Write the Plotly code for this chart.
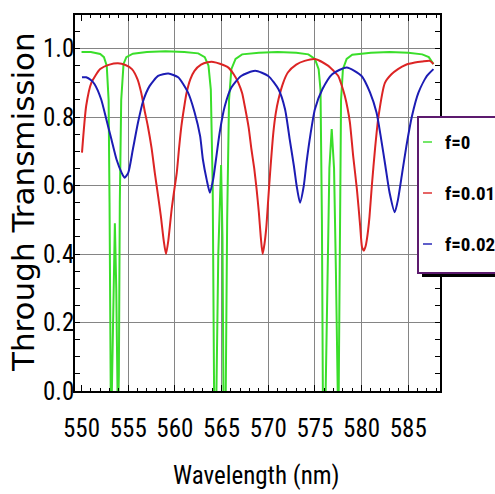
import plotly.graph_objects as go

# ---------------- data ----------------
SERIES_NAMES = ["f=0", "f=0.01", "f=0.02"]
COLORS = ["#3ade2a", "#dc2424", "#1c1cb4"]

GREEN_X = [550.0, 551.0, 552.0, 552.4, 552.7, 552.9, 553.0, 553.1, 553.15, 553.25,
           553.4, 553.57, 553.72, 553.85, 553.9, 554.0, 554.1, 554.25, 554.5, 554.8,
           555.5, 557.0, 559.0, 561.0, 562.5, 563.2, 563.6, 563.85, 564.05, 564.2,
           564.3, 564.45, 564.65, 564.95, 565.1, 565.2, 565.3, 565.45, 565.6, 565.8,
           566.05, 566.5, 567.2, 569.0, 571.0, 573.0, 574.3, 575.0, 575.4, 575.6,
           575.75, 575.85, 575.95, 576.15, 576.35, 576.55, 576.8, 577.05, 577.25, 577.4,
           577.5, 577.55, 577.65, 577.8, 578.0, 578.4, 579.0, 581.0, 583.0, 585.0,
           586.5, 587.2, 587.7]
GREEN_Y = [0.990, 0.990, 0.984, 0.975, 0.950, 0.850, 0.550, 0.000, -0.100, 0.000,
           0.300, 0.490, 0.300, 0.000, -0.100, 0.050, 0.550, 0.850, 0.955, 0.975,
           0.985, 0.990, 0.992, 0.990, 0.986, 0.975, 0.950, 0.880, 0.600, 0.000,
           -0.100, 0.000, 0.400, 0.660, 0.450, 0.000, -0.100, 0.000, 0.500, 0.850,
           0.940, 0.970, 0.983, 0.988, 0.990, 0.988, 0.983, 0.970, 0.940, 0.880,
           0.500, 0.000, -0.100, 0.000, 0.350, 0.650, 0.765, 0.650, 0.350, 0.000,
           -0.100, 0.000, 0.500, 0.850, 0.940, 0.970, 0.982, 0.988, 0.990, 0.988,
           0.983, 0.975, 0.955]

RED_X = [550.05, 550.5, 551.05, 552.0, 553.0, 553.9, 554.7, 555.4, 556.0, 556.4,
         556.75, 557.1, 557.5, 557.85, 558.2, 558.5, 558.8, 559.05, 559.3, 559.65,
         559.95, 560.2, 560.45, 560.7, 561.0, 561.25, 561.65, 562.1, 562.8, 563.5,
         564.1, 564.9, 565.7, 566.3, 566.8, 567.2, 567.5, 567.9, 568.2, 568.5,
         568.75, 569.0, 569.2, 569.4, 569.6, 569.8, 570.0, 570.2, 570.55, 570.8,
         571.1, 571.6, 572.1, 573.0, 573.9, 575.1, 576.4, 577.0, 577.5, 577.9,
         578.2, 578.5, 578.75, 579.1, 579.5, 579.85, 580.05, 580.25, 580.45, 580.55,
         580.7, 580.85, 581.1, 581.45, 581.8, 582.5, 583.2, 583.9, 584.7, 585.7,
         586.5, 587.3, 587.7]
RED_Y = [0.696, 0.833, 0.900, 0.940, 0.953, 0.957, 0.952, 0.940, 0.910, 0.870,
         0.820, 0.774, 0.710, 0.637, 0.570, 0.510, 0.440, 0.400, 0.440, 0.530,
         0.590, 0.637, 0.710, 0.774, 0.830, 0.870, 0.910, 0.935, 0.953, 0.960,
         0.961, 0.955, 0.945, 0.925, 0.900, 0.870, 0.830, 0.770, 0.706, 0.650,
         0.590, 0.520, 0.450, 0.400, 0.430, 0.480, 0.560, 0.637, 0.755, 0.810,
         0.852, 0.900, 0.930, 0.953, 0.964, 0.969, 0.950, 0.935, 0.920, 0.890,
         0.862, 0.825, 0.784, 0.686, 0.589, 0.481, 0.420, 0.410, 0.425, 0.440,
         0.470, 0.510, 0.600, 0.710, 0.800, 0.900, 0.925, 0.940, 0.952, 0.959,
         0.962, 0.964, 0.955]

BLUE_X = [550.05, 550.5, 551.0, 551.4, 552.1, 552.65, 553.2, 553.75, 554.3, 554.6,
          555.0, 555.5, 556.05, 556.6, 557.3, 558.2, 559.3, 560.35, 561.4, 562.1,
          562.7, 563.0, 563.4, 563.75, 564.1, 564.45, 564.8, 565.35, 566.05, 567.1,
          568.6, 570.0, 571.1, 571.8, 572.3, 572.75, 573.05, 573.4, 573.8, 574.1,
          574.5, 575.0, 575.8, 576.85, 578.4, 580.0, 580.9, 581.6, 582.1, 582.55,
          583.0, 583.55, 583.9, 584.35, 584.8, 585.4, 586.1, 587.0, 587.7]
BLUE_Y = [0.916, 0.916, 0.908, 0.896, 0.852, 0.794, 0.735, 0.676, 0.637, 0.623,
          0.637, 0.706, 0.784, 0.847, 0.891, 0.920, 0.927, 0.916, 0.872, 0.815,
          0.745, 0.676, 0.618, 0.579, 0.618, 0.686, 0.755, 0.832, 0.886, 0.920,
          0.935, 0.920, 0.881, 0.823, 0.735, 0.657, 0.598, 0.550, 0.598, 0.667,
          0.745, 0.823, 0.881, 0.925, 0.945, 0.920, 0.872, 0.813, 0.735, 0.657,
          0.579, 0.522, 0.559, 0.637, 0.715, 0.803, 0.872, 0.920, 0.940]

X_TICKS = [550, 555, 560, 565, 570, 575, 580, 585]
X_GRID = [555, 560, 565, 570, 575, 580, 585]
Y_TICKS = [0.0, 0.2, 0.4, 0.6, 0.8, 1.0]
Y_TICK_TEXT = ["0.0", "0.2", "0.4", "0.6", "0.8", "1.0"]
X_TITLE = "Wavelength (nm)"
Y_TITLE = "Through Transmission"

# ---------------- figure ----------------
NARROW = "Roboto Condensed, Liberation Sans, sans-serif"
GRID = "#858585"
X_RANGE = [549.3, 588.4]
Y_RANGE = [0.0, 1.098]

series = [(GREEN_X, GREEN_Y, "linear"), (RED_X, RED_Y, "spline"), (BLUE_X, BLUE_Y, "spline")]

fig = go.Figure()
# helper trace so that the grid-only overlay axis exists
fig.add_trace(go.Scatter(x=[], y=[], xaxis="x2", showlegend=False, hoverinfo="skip"))
for (xs, ys, shape), name, col in zip(series, SERIES_NAMES, COLORS):
    fig.add_trace(go.Scatter(x=xs, y=ys, mode="lines", name=name,
                             line=dict(color=col, width=2, shape=shape,
                                       smoothing=0.6 if shape == "spline" else None),
                             showlegend=False))

fig.update_layout(
    width=495, height=494,
    margin=dict(l=75, r=55, t=15, b=103, autoexpand=False),
    paper_bgcolor="white", plot_bgcolor="white",
    xaxis=dict(range=X_RANGE, tickvals=X_TICKS, ticktext=[str(v) for v in X_TICKS],
               showgrid=False, zeroline=False, showline=True, linecolor="black",
               linewidth=1.5, mirror="allticks", ticks="inside", ticklen=6,
               tickcolor="black", tickwidth=1,
               minor=dict(dtick=1, ticks="inside", ticklen=3, tickcolor="black", showgrid=False),
               tickfont=dict(family=NARROW, size=25, color="black"),
               ticklabelstandoff=14),
    xaxis2=dict(range=X_RANGE, overlaying="x", anchor="y", tickvals=X_GRID,
                showgrid=True, gridcolor=GRID, gridwidth=1, showticklabels=False,
                ticks="", showline=False, zeroline=False),
    yaxis=dict(range=Y_RANGE, tickvals=Y_TICKS, ticktext=Y_TICK_TEXT,
               showgrid=True, gridcolor=GRID, gridwidth=1, zeroline=False,
               showline=True, linecolor="black", linewidth=1.5, mirror="allticks",
               ticks="inside", ticklen=5, tickcolor="black",
               minor=dict(dtick=0.05, ticks="inside", ticklen=3, tickcolor="black", showgrid=False),
               tickfont=dict(family=NARROW, size=25, color="black"),
               ticklabelstandoff=-6),
    showlegend=False,
)

# axis titles
fig.add_annotation(text=X_TITLE, xref="paper", yref="paper", x=0.4986, y=-0.224,
                   xanchor="center", yanchor="middle", showarrow=False,
                   font=dict(family=NARROW, size=25, color="black"))
fig.add_annotation(text=Y_TITLE, xref="paper", yref="paper", x=-0.142, y=0.503,
                   xanchor="center", yanchor="middle", showarrow=False, textangle=-90,
                   font=dict(family="DejaVu Sans", size=31, color="black"))

# legend box (drawn by hand; the box runs off the right edge like the reference)
PW, PH, L, B = 365.0, 376.0, 75.0, 391.0
def px(xp):
    return (xp - L) / PW
def py(yp):
    return (B - yp) / PH

fig.add_shape(type="rect", xref="paper", yref="paper", x0=px(422), x1=px(520),
              y0=py(277), y1=py(121), fillcolor="black", line=dict(width=0), layer="above")
fig.add_shape(type="rect", xref="paper", yref="paper", x0=px(418), x1=px(520),
              y0=py(273), y1=py(117), fillcolor="white",
              line=dict(color="#5c1a6e", width=2), layer="above")
ROW_Y = [142, 193, 244]
for name, col, ry in zip(SERIES_NAMES, COLORS, ROW_Y):
    fig.add_shape(type="line", xref="paper", yref="paper", x0=px(423), x1=px(432),
                  y0=py(ry), y1=py(ry), line=dict(color=col, width=2), opacity=0.7,
                  layer="above")
    fig.add_annotation(text=name, xref="paper", yref="paper", x=px(443), y=py(ry),
                       xanchor="left", yanchor="middle", showarrow=False,
                       font=dict(family=NARROW, size=19, color="black", weight="bold"))

fig.write_html("out.html", config={"displayModeBar": False},
               post_script="document.body.style.margin='0px';")
